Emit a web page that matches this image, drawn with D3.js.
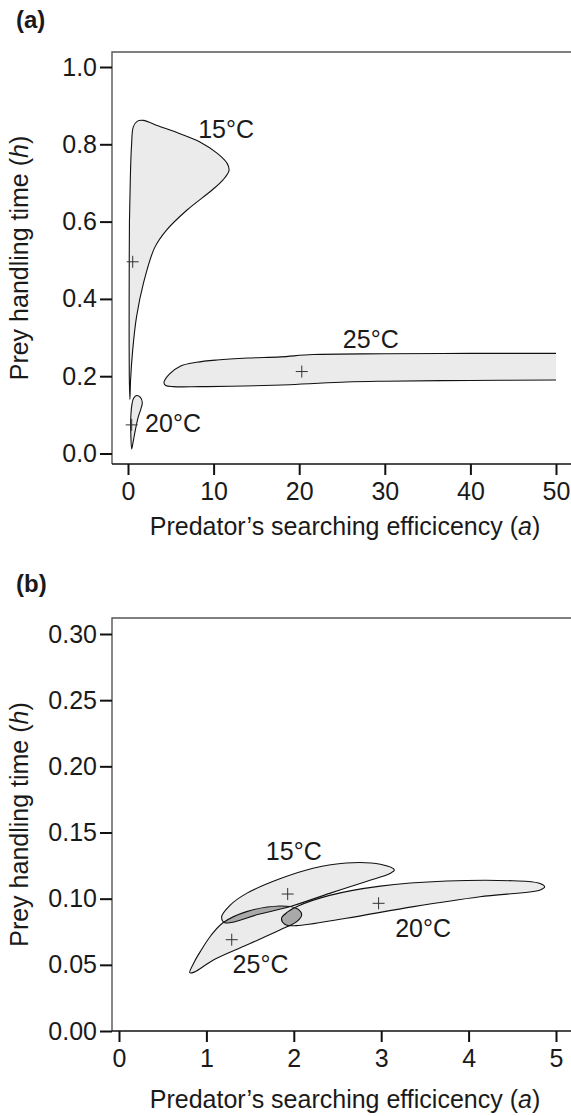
<!DOCTYPE html>
<html>
<head>
<meta charset="utf-8">
<script src="https://cdn.jsdelivr.net/npm/d3@7"></script>
<style>
body { margin: 0; background: #fff; }
text { font-family: "Liberation Sans", Arial, Helvetica, sans-serif; fill: #1a1a1a; }
</style>
</head>
<body>
<svg id="chart" width="571" height="1116"></svg>
<script>
// ---- panel (a) ----
const aXTicks = [0, 10, 20, 30, 40, 50];
const aYTicks = [0, 0.2, 0.4, 0.6, 0.8, 1.0];
// contour outlines, [a, h]
const a15 = [[0.22,0.14],[0.15,0.2],[0.13,0.3],[0.14,0.45],[0.17,0.6],[0.28,0.72],[0.42,0.8],[0.62,0.845],[1.1,0.86],[1.8,0.862],[3.5,0.848],[6,0.828],[8.4,0.806],[10.4,0.777],[11.6,0.75],[11.8,0.732],[11.1,0.708],[9.9,0.683],[6.9,0.63],[4.5,0.578],[3.1,0.532],[1.8,0.44],[1.0,0.354],[0.55,0.268],[0.3,0.19]];
const a20 = [[0.43,0.012],[0.33,0.05],[0.32,0.09],[0.45,0.125],[0.65,0.143],[1.02,0.15],[1.45,0.145],[1.67,0.132],[1.5,0.115],[1.2,0.095],[0.85,0.06],[0.6,0.03]];
const a25 = [[4.2,0.183],[4.8,0.205],[6.1,0.226],[8,0.236],[10.4,0.242],[14,0.247],[17.8,0.25],[21.6,0.256],[30,0.258],[40,0.259],[50,0.259],[52,0.259],[52,0.19],[50,0.19],[40,0.189],[30,0.187],[25.5,0.185],[18.9,0.178],[12,0.174],[8.4,0.173],[5.3,0.173],[4.4,0.176]];
const aCenters = [[0.55,0.496],[0.43,0.074],[20.3,0.212]];
const aLabels = [["15°C",8.2,0.816],["20°C",2.0,0.056],["25°C",25.1,0.273]];

// ---- panel (b) ----
const bXTicks = [0, 1, 2, 3, 4, 5];
const bYTicks = [0, 0.05, 0.10, 0.15, 0.20, 0.25, 0.30];
const b15 = [[3.15,0.1217],[2.99,0.126],[2.6,0.127],[2.22,0.123],[1.84,0.115],[1.46,0.104],[1.27,0.095],[1.175,0.0864],[1.21,0.0818],[1.6,0.0882],[1.98,0.0945],[2.41,0.104],[2.83,0.113],[3.1,0.119]];
const b20 = [[1.86,0.0852],[1.93,0.09],[2.05,0.0945],[2.41,0.1025],[2.99,0.1095],[3.75,0.1133],[4.51,0.1135],[4.8,0.1118],[4.87,0.109],[4.82,0.1066],[4.13,0.1015],[3.37,0.094],[2.6,0.0852],[2.03,0.0796],[1.9,0.0805]];
const b25 = [[0.81,0.044],[0.86,0.052],[0.93,0.06],[1.05,0.072],[1.19,0.0818],[1.46,0.0902],[1.84,0.0945],[2.03,0.0927],[2.09,0.088],[2.04,0.083],[1.84,0.0763],[1.46,0.065],[1.08,0.0537],[0.86,0.0445]];
const bCenters = [[1.93,0.1035],[2.97,0.0965],[1.29,0.069]];
const bLabels = [["15°C",1.68,0.129],["20°C",3.16,0.071],["25°C",1.30,0.044]];

const svg = d3.select("#chart");
const fontSize = 25;

function drawPanel(p) {
    let g = svg.append("g");

    let x = d3.scaleLinear().domain([p.xTicks[0], p.xTicks[p.xTicks.length - 1]]).range(p.xRange);
    let y = d3.scaleLinear().domain([p.yTicks[0], p.yTicks[p.yTicks.length - 1]]).range(p.yRange);

    let line = d3.line()
        .x(d => x(d[0]))
        .y(d => y(d[1]))
        .curve(d3.curveCatmullRomClosed.alpha(0.5));

    // clip to plotting window
    let defs = svg.append("defs");
    defs.append("clipPath").attr("id", "win-" + p.id)
        .append("rect")
        .attr("x", p.left).attr("y", p.top)
        .attr("width", x(p.xTicks[p.xTicks.length - 1]) - p.left)
        .attr("height", p.bottom - p.top);

    p.shapes.forEach((s, i) => {
        defs.append("clipPath").attr("id", "sh-" + p.id + i)
            .append("path").attr("d", line(s));
    });

    let plot = g.append("g").attr("clip-path", "url(#win-" + p.id + ")");

    plot.selectAll(".fill")
        .data(p.shapes)
        .enter().append("path")
        .attr("d", line)
        .attr("fill", "#ebebeb");

    // overlapping parts drawn darker
    p.shapes.forEach((s, i) => {
        p.shapes.forEach((t, j) => {
            if (j <= i) return;
            plot.append("g").attr("clip-path", "url(#sh-" + p.id + j + ")")
                .append("path").attr("d", line(s)).attr("fill", "#a9a9a9");
        });
    });

    plot.selectAll(".edge")
        .data(p.shapes)
        .enter().append("path")
        .attr("d", line)
        .attr("fill", "none")
        .attr("stroke", "#111")
        .attr("stroke-width", 1.1);

    plot.selectAll(".cross")
        .data(p.centers)
        .enter().append("path")
        .attr("d", d => "M" + (x(d[0]) - 6) + "," + y(d[1]) + "h12M" + x(d[0]) + "," + (y(d[1]) - 6) + "v12")
        .attr("stroke", "#333")
        .attr("stroke-width", 1);

    g.selectAll(".lab")
        .data(p.labels)
        .enter().append("text")
        .attr("x", d => x(d[1]))
        .attr("y", d => y(d[2]))
        .attr("font-size", fontSize)
        .text(d => d[0]);

    // frame: open on the right, runs off the page
    g.append("path")
        .attr("d", "M600," + p.top + "H" + p.left + "V" + p.bottom)
        .attr("fill", "none")
        .attr("stroke", "#555")
        .attr("stroke-width", 1.4);
    g.append("line")
        .attr("x1", p.left).attr("x2", 600)
        .attr("y1", p.bottom).attr("y2", p.bottom)
        .attr("stroke", "#111")
        .attr("stroke-width", 1.5);

    let yAxis = d3.axisLeft(y)
        .tickValues(p.yTicks)
        .tickFormat(d3.format(p.yFormat))
        .tickSize(12)
        .tickPadding(3);
    let ya = g.append("g")
        .attr("transform", "translate(" + p.left + ",0)")
        .call(yAxis);

    let xAxis = d3.axisBottom(x)
        .tickValues(p.xTicks)
        .tickFormat(d3.format("d"))
        .tickSize(11)
        .tickPadding(7);
    let xa = g.append("g")
        .attr("transform", "translate(0," + p.bottom + ")")
        .call(xAxis);

    [ya, xa].forEach(a => {
        a.select(".domain").remove();
        a.selectAll(".tick line").attr("stroke", "#111").attr("stroke-width", 2);
        a.selectAll(".tick text")
            .attr("font-size", fontSize)
            .attr("font-family", "Liberation Sans, Arial, sans-serif")
            .attr("fill", "#1a1a1a");
    });

    g.append("text")
        .attr("transform", "translate(28," + ((p.top + p.bottom) / 2) + ") rotate(-90)")
        .attr("text-anchor", "middle")
        .attr("font-size", fontSize)
        .call(t => {
            t.append("tspan").text("Prey handling time (");
            t.append("tspan").attr("font-style", "italic").text("h");
            t.append("tspan").text(")");
        });

    g.append("text")
        .attr("x", 345)
        .attr("y", p.xTitleY)
        .attr("text-anchor", "middle")
        .attr("font-size", fontSize)
        .call(t => {
            t.append("tspan").text("Predator’s searching efficicency (");
            t.append("tspan").attr("font-style", "italic").text("a");
            t.append("tspan").text(")");
        });

    g.append("text")
        .attr("x", 16)
        .attr("y", p.tagY)
        .attr("font-size", 24)
        .attr("font-weight", "bold")
        .text(p.tag);
}

drawPanel({
    id: "a", tag: "(a)", tagY: 28,
    left: 112, top: 52, bottom: 464,
    xRange: [128, 556], yRange: [453.5, 67],
    xTicks: aXTicks, yTicks: aYTicks, yFormat: ".1f",
    shapes: [a15, a20, a25], centers: aCenters, labels: aLabels,
    xTitleY: 535
});

drawPanel({
    id: "b", tag: "(b)", tagY: 592,
    left: 112, top: 618, bottom: 1031,
    xRange: [119, 556], yRange: [1031, 634],
    xTicks: bXTicks, yTicks: bYTicks, yFormat: ".2f",
    shapes: [b15, b20, b25], centers: bCenters, labels: bLabels,
    xTitleY: 1108
});
</script>
</body>
</html>
